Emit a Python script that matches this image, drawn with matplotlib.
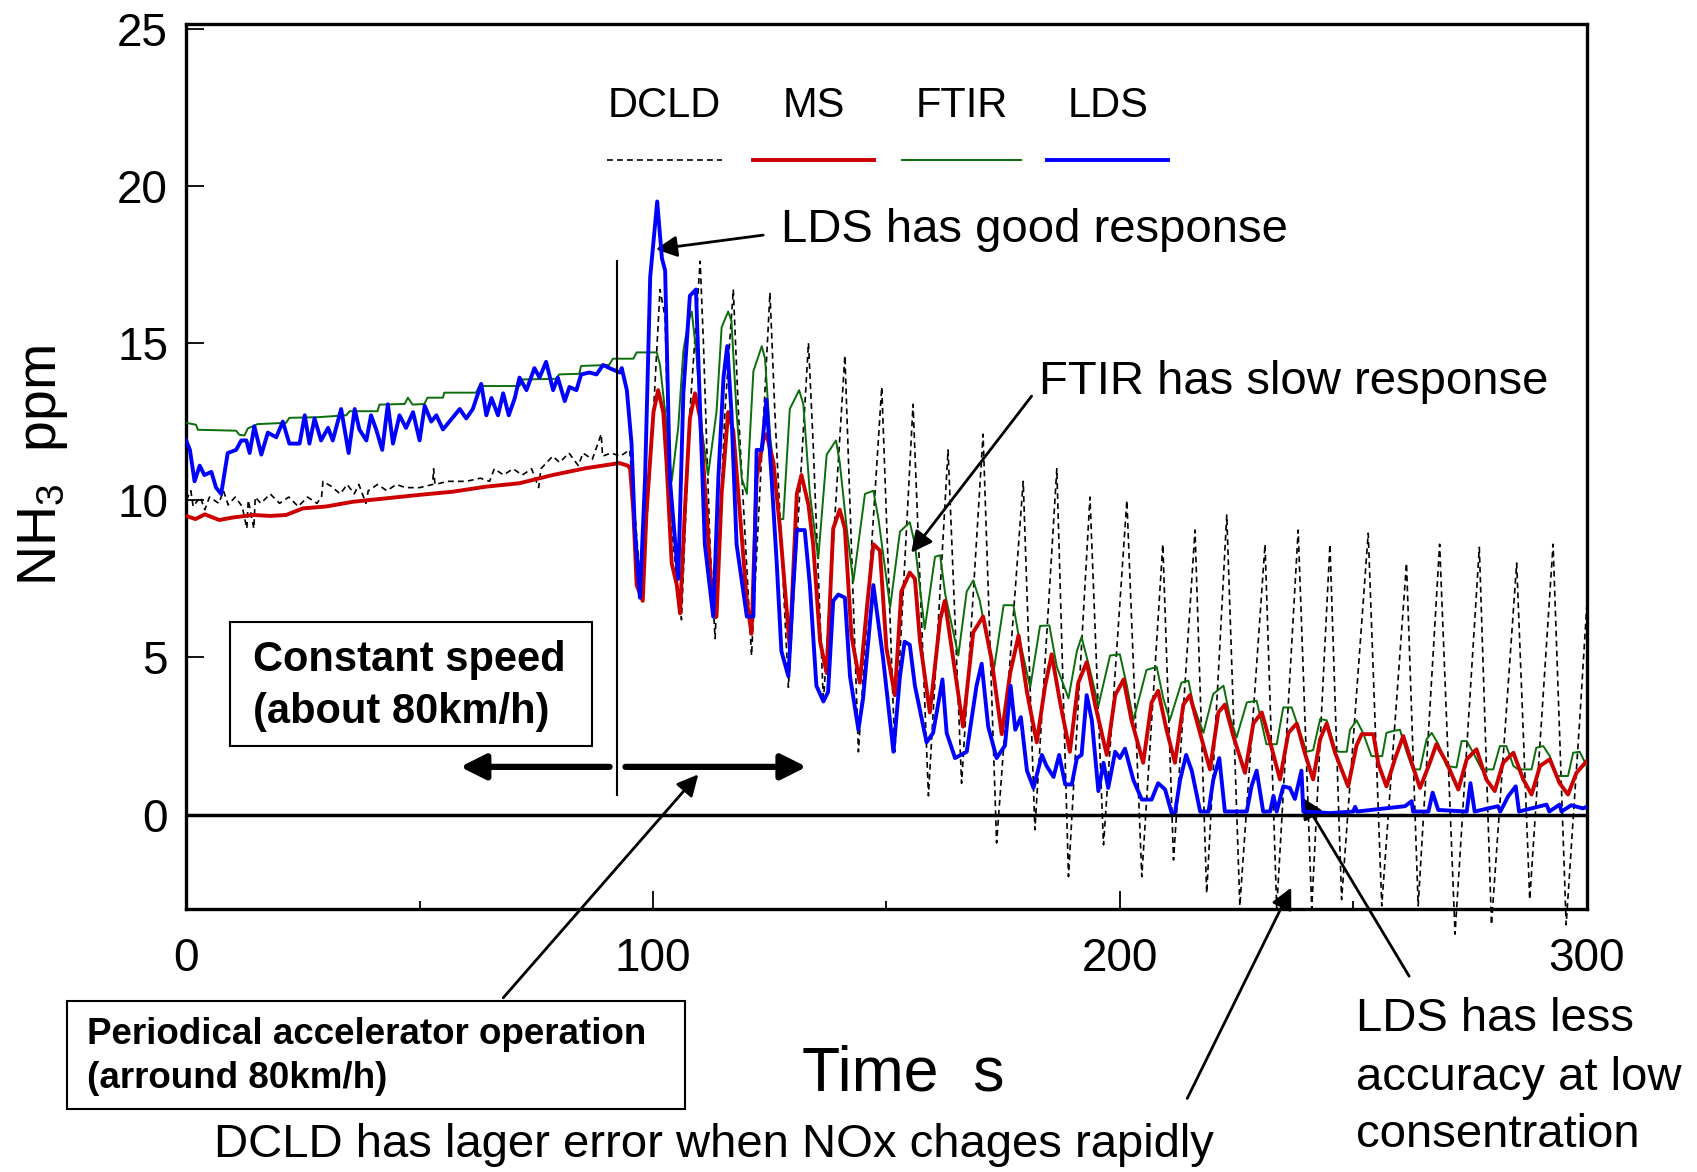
import numpy as np
import matplotlib
matplotlib.use("Agg")
import matplotlib.pyplot as plt
from matplotlib.lines import Line2D
from matplotlib.patches import Rectangle

plt.rcParams['font.family'] = ['Liberation Sans', 'DejaVu Sans']
plt.rcParams['mathtext.default'] = 'regular'

# ---- data: (time s, NH3 ppm) ----
dcld = [(0, 10.0), (1, 10.3), (1.5, 9.8), (3, 10.1), (4, 9.7), (5, 10.1), (7, 9.9), (8, 10.3), (9, 9.85),
        (10.5, 10.1), (12, 9.8), (13, 9.1), (13.3, 10.0), (14.5, 9.1), (14.8, 10.1), (16, 9.9), (18, 10.2),
        (20, 9.9), (22, 10.1), (24, 9.8), (26, 10.1), (28, 9.9), (29, 10.1), (29.3, 10.6), (31, 10.45),
        (33, 10.2), (34.5, 10.5), (36, 10.2), (37, 10.5), (38.5, 9.9), (39, 10.3), (41, 10.5), (43, 10.3),
        (45, 10.5), (47, 10.4), (50, 10.4), (52.8, 10.5), (53, 11.0), (53.3, 10.5), (56, 10.6), (60, 10.6),
        (63, 10.7), (65, 10.6), (66, 11.0), (68, 10.8), (70, 11.0), (72, 10.8), (74, 11.0), (75.5, 10.4),
        (76, 11.0), (78.5, 11.4), (80, 11.2), (82, 11.5), (84, 11.1), (85, 11.5), (87, 11.3), (88.9, 12.1),
        (89.2, 11.4), (91, 11.5), (93, 11.4), (95, 11.6),
        (96.1, 9.6), (97.6, 6.8), (100.1, 12.8), (101.5, 16.7), (102.6, 15.8), (103.6, 9.6), (106.1, 6.2),
        (107.9, 12.8), (110.1, 17.6), (110.8, 15.0), (112.2, 8.6), (113.3, 5.6), (115.4, 12.8), (117.2, 16.7),
        (118.3, 12.8), (121.1, 5.06), (125.05, 16.6), (126.1, 12.8), (129.0, 4.05), (133.3, 15.0),
        (134.3, 11.8), (136.5, 3.57), (141.1, 14.6), (144.0, 2.0), (149.0, 13.6), (151.8, 2.0),
        (155.7, 13.05), (159.0, 0.6), (163.2, 11.6), (166.1, 1.0), (170.7, 12.1), (173.6, -0.9),
        (179.3, 10.6), (181.8, -0.48), (186.5, 11.0), (189.0, -1.97), (193.6, 10.1), (196.5, -0.96),
        (201.5, 10.0), (204.7, -1.97), (209.2, 8.6), (211.5, -1.44), (216.1, 9.05), (218.6, -2.5),
        (222.9, 9.53), (225.7, -2.9), (231.1, 8.6), (233.6, -3.0), (238.2, 9.05), (241.1, -3.0),
        (245.0, 8.6), (247.5, -2.7), (253.2, 8.95), (256.1, -2.9), (261.4, 8.0), (263.9, -2.9),
        (268.5, 8.6), (271.8, -3.8), (277.0, 8.5), (279.6, -3.5), (285.0, 8.0), (287.8, -2.7),
        (292.8, 8.6), (295.6, -3.5), (298.5, 3.0), (300, 6.6)]

ms = [(0, 9.5), (2, 9.4), (4, 9.55), (7.1, 9.37), (10, 9.45), (14.3, 9.53), (18, 9.5), (21.4, 9.53),
      (25, 9.74), (30, 9.8), (35.7, 9.95), (42.8, 10.06), (50, 10.17), (57.1, 10.27), (64.2, 10.43),
      (71.4, 10.54), (78.5, 10.8), (85.7, 11.02), (92.8, 11.18), (94.6, 11.1),
      (95.1, 11.0), (95.8, 9.6), (96.5, 7.3), (97.8, 6.8), (98.6, 9.6), (100.1, 12.8), (101.1, 13.5),
      (102.2, 12.8), (102.9, 11.2), (104.0, 8.0), (105.1, 7.3), (105.8, 6.4), (106.8, 9.6), (107.9, 12.6),
      (109.0, 13.4), (110.1, 12.6), (111.5, 9.6), (112.6, 6.9), (113.6, 6.3), (114.7, 10.2), (116.1, 12.8),
      (117.2, 12.2), (118.6, 9.6), (120.1, 6.8), (121.1, 5.75), (122.2, 10.7), (123.6, 11.9), (124.3, 12.1),
      (125.8, 11.2), (127.2, 9.1), (128.6, 6.55), (129.3, 5.3), (130.8, 10.2), (131.8, 10.8), (133.3, 9.85),
      (134.3, 8.6), (135.8, 5.5), (137.2, 4.5), (138.6, 9.1), (140.0, 9.7), (141.1, 9.1), (142.5, 5.7),
      (144.3, 4.2), (145.8, 6.55), (147.2, 8.6), (148.6, 8.4), (150.0, 5.3), (151.8, 3.8), (153.2, 7.1),
      (155.0, 7.7), (156.1, 7.5), (157.2, 5.5), (159.3, 3.25), (161.5, 6.2), (162.5, 6.8), (164.3, 4.95),
      (166.4, 2.8), (168.6, 5.8), (170.7, 6.3), (172.5, 4.95), (174.7, 2.56), (176.5, 4.5), (178.3, 5.7),
      (180.1, 3.9), (182.2, 2.3), (184.0, 4.1), (185.4, 5.1), (187.2, 3.57), (189.3, 2.0), (191.1, 4.2),
      (192.9, 4.85), (194.7, 3.5), (197.2, 1.9), (199.0, 3.8), (200.8, 4.3), (202.5, 3.0), (205.0, 1.65),
      (206.8, 3.57), (208.2, 3.94), (210.0, 2.7), (211.8, 1.65), (213.6, 3.5), (215.0, 3.8), (216.8, 2.8),
      (219.3, 1.44), (221.1, 3.25), (222.5, 3.5), (224.3, 2.5), (226.8, 1.33), (228.6, 2.9), (230.4, 3.25),
      (232.2, 2.3), (234.3, 1.12), (236.1, 2.6), (237.9, 2.9), (239.6, 1.97), (241.4, 1.12), (242.9, 2.4),
      (244.3, 2.9), (246.1, 1.97), (248.9, 0.9), (250.7, 2.2), (251.8, 2.56), (254.3, 2.56), (255.4, 1.6),
      (257.1, 0.9), (258.9, 1.76), (260.7, 2.5), (262.5, 1.65), (264.3, 0.85), (266.4, 1.65), (267.8, 2.24),
      (270.0, 1.65), (272.5, 0.8), (274.3, 1.76), (276.4, 2.08), (278.5, 1.12), (280.3, 0.75), (282.1, 1.65),
      (284.3, 1.97), (286.4, 1.12), (288.2, 0.64), (290.0, 1.55), (292.1, 1.76), (294.2, 1.0), (296.0, 0.64),
      (297.8, 1.33), (300, 1.7)]

ftir = [(0, 12.46), (2.1, 12.4), (2.5, 12.24), (10.7, 12.21), (11.4, 12.08), (12.5, 12.06), (13.2, 12.28),
        (15.3, 12.42), (21.4, 12.46), (22.1, 12.62), (28.2, 12.64), (34.3, 12.7), (35.0, 12.83), (41.0, 12.83),
        (41.4, 13.04), (46.8, 13.06), (47.5, 13.26), (48.5, 13.04), (51.0, 13.06), (51.7, 13.26), (55.0, 13.26),
        (55.3, 13.42), (62.1, 13.42), (62.8, 13.63), (71.4, 13.63), (72.1, 13.84), (79.2, 13.86), (79.9, 14.0),
        (84.2, 14.02), (84.6, 14.27), (90.6, 14.3), (91.4, 14.5), (95.8, 14.5), (96.5, 14.7), (100.8, 14.7),
        (101.5, 14.3), (102.6, 12.8), (104.0, 10.6), (105.4, 12.3), (106.5, 14.75), (107.6, 15.7),
        (108.3, 16.0), (109.3, 14.65), (110.4, 12.3), (111.8, 10.8), (113.6, 12.8), (114.7, 15.5),
        (116.1, 16.0), (116.8, 15.7), (117.9, 12.8), (119.0, 10.7), (120.1, 10.2), (121.5, 14.1),
        (123.3, 14.9), (124.0, 14.5), (125.1, 12.0), (127.2, 9.4), (127.9, 9.4), (129.3, 12.9), (131.3, 13.5),
        (132.2, 13.05), (133.6, 10.2), (135.4, 8.15), (137.2, 11.45), (139.2, 11.9), (140.0, 11.2),
        (141.5, 9.1), (142.9, 7.4), (145.4, 10.2), (147.2, 10.3), (148.3, 9.4), (150.8, 6.6), (152.9, 9.0),
        (155.0, 9.3), (156.1, 8.6), (158.2, 5.9), (160.4, 8.2), (161.5, 8.25), (162.6, 7.0), (165.4, 5.06),
        (167.2, 7.1), (168.6, 7.45), (170.0, 6.8), (172.9, 4.5), (175.1, 6.66), (177.2, 6.66), (178.3, 5.7),
        (180.8, 4.05), (182.9, 6.0), (184.9, 6.02), (186.5, 4.7), (189.0, 3.7), (190.8, 5.2), (191.8, 5.65),
        (193.6, 4.6), (195.4, 3.46), (197.9, 5.06), (200.0, 5.1), (201.5, 4.1), (202.9, 3.0), (205.7, 4.6),
        (207.9, 4.7), (209.3, 3.7), (210.7, 3.0), (213.2, 4.2), (214.7, 4.26), (215.7, 3.5), (217.9, 2.6),
        (220.0, 3.84), (222.2, 4.1), (223.6, 3.1), (225.0, 2.45), (227.2, 3.57), (229.3, 3.62), (230.4, 2.9),
        (231.4, 2.24), (233.6, 2.24), (235.0, 3.41), (236.8, 3.41), (238.2, 2.8), (240.0, 2.0), (241.4, 2.05),
        (242.9, 3.04), (244.3, 3.0), (246.1, 2.1), (246.8, 2.0), (248.6, 2.0), (249.3, 2.7), (250.7, 3.0),
        (252.1, 2.6), (253.9, 1.86), (256.2, 1.86), (257.1, 2.6), (258.2, 2.65), (260.0, 2.7), (261.4, 2.0),
        (262.8, 1.44), (264.3, 1.44), (265.7, 2.4), (266.8, 2.6), (268.2, 2.25), (270.0, 1.55), (272.1, 1.5),
        (273.2, 2.34), (274.3, 2.34), (275.7, 1.97), (277.5, 1.44), (280.0, 1.44), (281.4, 2.18),
        (282.8, 2.18), (284.3, 1.55), (285.3, 1.44), (288.2, 1.44), (289.2, 2.13), (290.7, 2.18),
        (292.1, 1.86), (293.5, 1.23), (296.0, 1.23), (297.1, 1.97), (298.5, 2.0), (300, 1.55)]

lds = [(0, 11.9), (0.8, 11.6), (1.8, 10.6), (2.9, 11.1), (3.9, 10.8), (5.4, 10.9), (6.4, 10.4), (7.5, 10.2),
       (8.9, 11.5), (10.7, 11.6), (11.8, 11.9), (12.9, 11.9), (13.6, 11.5), (14.6, 12.35), (16.1, 11.45),
       (17.5, 12.15), (19.3, 12.0), (20.7, 12.5), (22.1, 11.8), (24.3, 11.8), (25.4, 12.7), (26.4, 11.8),
       (27.5, 12.6), (28.9, 11.9), (30.4, 12.3), (31.4, 11.9), (33.2, 12.9), (34.8, 11.5), (36.1, 12.9),
       (37.1, 12.25), (38.6, 11.9), (39.6, 12.7), (40.7, 12.25), (42.0, 11.6), (43.2, 13.05), (44.3, 11.8),
       (45.7, 12.7), (47.1, 12.3), (48.6, 12.8), (50.0, 11.9), (51.1, 13.0), (52.5, 12.5), (53.6, 12.7),
       (55.0, 12.25), (56.4, 12.5), (58.6, 12.9), (60.0, 12.6), (61.4, 12.9), (63.2, 13.7), (64.3, 12.7),
       (65.4, 13.25), (66.8, 12.7), (67.9, 13.4), (69.1, 12.7), (70.4, 13.25), (71.4, 13.9), (72.9, 13.5),
       (74.6, 14.2), (75.7, 13.9), (77.1, 14.4), (78.6, 13.5), (79.6, 13.9), (81.1, 13.15), (82.1, 13.6),
       (83.6, 13.5), (84.6, 14.0), (86.4, 14.06), (87.9, 14.0), (89.3, 14.3), (90.7, 14.2), (92.9, 14.06),
       (93.3, 14.2), (94.4, 13.5), (95.4, 11.8), (96.1, 9.1), (97.2, 6.9), (98.3, 10.7), (99.4, 17.1),
       (100.9, 19.5), (101.9, 17.7), (102.6, 17.3), (103.6, 10.7), (105.4, 7.5), (106.5, 13.4), (107.9, 16.5),
       (109.2, 16.7), (110.1, 12.8), (111.1, 8.6), (112.9, 6.3), (114.0, 10.7), (115.1, 13.9), (115.9, 14.9),
       (116.8, 12.8), (117.9, 8.6), (120.1, 6.3), (121.5, 6.3), (122.2, 11.6), (123.3, 11.6), (124.3, 13.2),
       (125.4, 10.7), (126.5, 8.0), (127.5, 5.2), (129.0, 4.4), (130.0, 7.1), (130.8, 9.05), (132.5, 9.05),
       (133.6, 7.3), (135.0, 4.1), (136.5, 3.6), (137.5, 3.9), (138.6, 6.8), (139.7, 7.0), (141.1, 6.9),
       (142.2, 4.4), (144.0, 2.7), (145.0, 3.7), (147.2, 7.3), (149.3, 4.95), (151.5, 2.0), (152.9, 4.4),
       (153.9, 5.5), (155.0, 5.4), (156.1, 4.1), (158.6, 2.3), (160.0, 2.6), (162.0, 4.3), (162.9, 2.6),
       (164.7, 1.8), (167.2, 2.0), (169.3, 4.1), (170.4, 4.8), (171.8, 2.8), (173.6, 1.8), (175.4, 2.2),
       (176.6, 4.1), (177.6, 2.7), (178.8, 3.1), (180.1, 1.4), (181.5, 0.85), (183.3, 1.9), (184.3, 1.55),
       (185.8, 1.2), (187.0, 1.9), (188.3, 0.96), (189.7, 0.96), (190.8, 1.8), (191.8, 1.9), (192.9, 3.8),
       (194.0, 3.0), (195.4, 0.75), (196.5, 1.65), (197.5, 0.85), (199.0, 2.0), (200.0, 1.8), (201.1, 2.1),
       (202.9, 1.1), (204.7, 0.48), (206.8, 0.48), (208.2, 1.0), (209.7, 0.8), (211.1, 0.05), (211.8, 0.05),
       (212.9, 1.1), (214.2, 1.9), (215.4, 1.4), (217.2, 0.1), (219.0, 0.1), (220.0, 1.1), (221.3, 1.8),
       (222.5, 0.1), (227.2, 0.1), (228.2, 0.9), (229.3, 1.4), (230.7, 0.1), (232.2, 0.1), (232.9, 0.6),
       (233.6, 0.1), (235.0, 0.9), (236.4, 0.85), (237.5, 0.5), (238.9, 1.4), (239.3, 0.1), (245.0, 0.05),
       (250.0, 0.1), (250.4, 0.25), (250.8, 0.1), (261.1, 0.27), (262.5, 0.43), (262.8, 0.1), (266.1, 0.1),
       (267.0, 0.7), (268.2, 0.15), (274.3, 0.1), (275.1, 1.0), (276.0, 0.1), (281.0, 0.27), (281.5, 0.1),
       (283.2, 0.59), (284.8, 0.9), (285.5, 0.1), (291.4, 0.32), (292.0, 0.1), (294.2, 0.32), (294.6, 0.1),
       (296.7, 0.3), (299.2, 0.2), (300, 0.25)]

legend_names = ["DCLD", "MS", "FTIR", "LDS"]

dcld_t, dcld_v = np.array(dcld).T
ms_t, ms_v = np.array(ms).T
ftir_t, ftir_v = np.array(ftir).T
lds_t, lds_v = np.array(lds).T

fig = plt.figure(figsize=(16.97, 11.72), dpi=100)
ax = fig.add_axes([0.1097, 0.2244, 0.8253, 0.7553])

ax.plot(dcld_t, dcld_v, color='k', lw=1.2, ls=(0, (3.5, 2.5)), clip_on=False, zorder=2)
ax.plot(ftir_t, ftir_v, color='#0a6e0a', lw=1.4, zorder=3)
ax.plot(ms_t, ms_v, color='#cc0000', lw=2.8, zorder=4)
ax.plot(lds_t, lds_v, color='#0000ff', lw=2.8, zorder=5)

ax.axhline(0, color='k', lw=2.5, zorder=6)
ax.plot([92.3, 92.3], [0.62, 17.6], color='k', lw=1.5, zorder=6)

ax.set_xlim(0, 300)
ax.set_ylim(-3, 25.15)
ax.set_xticks([0, 100, 200, 300])
ax.set_xticks([50, 150, 250], minor=True)
ax.set_yticks([0, 5, 10, 15, 20, 25])
ax.tick_params(axis='both', which='major', direction='in', length=13, width=1.3, labelsize=33)
ax.tick_params(axis='both', which='minor', direction='in', length=6, width=1.3)
ax.tick_params(axis='x', pad=20)
ax.tick_params(axis='y', pad=13)
for s in ax.spines.values():
    s.set_linewidth(2.4)

# legend drawn as labels above line samples
leg_x = [(0.3006, 0.3826), (0.405, 0.491), (0.511, 0.596), (0.615, 0.701)]
leg_style = [dict(color='k', lw=1.2, ls=(0, (3.5, 2.5))), dict(color='#cc0000', lw=2.8),
             dict(color='#0a6e0a', lw=1.4), dict(color='#0000ff', lw=2.8)]
for name, (x0, x1), st in zip(legend_names, leg_x, leg_style):
    ax.add_line(Line2D([x0, x1], [0.846, 0.846], transform=ax.transAxes, **st))
    ax.text((x0 + x1) / 2, 0.907, name, transform=ax.transAxes, ha='center', va='center', fontsize=30)

# annotations inside the plot
ax.text(127.5, 18.6, "LDS has good response", fontsize=34, va='center', ha='left')
ax.text(182.7, 13.76, "FTIR has slow response", fontsize=34, va='center', ha='left')
arr = dict(arrowstyle='-|>', color='k', lw=2, mutation_scale=32, shrinkA=0, shrinkB=0)
ax.annotate("", xy=(100.6, 17.98), xytext=(123.6, 18.43), arrowprops=arr)
ax.annotate("", xy=(155.3, 8.33), xytext=(181.1, 13.31), arrowprops=arr)

big = dict(arrowstyle='-|>', color='k', lw=4.5, mutation_scale=38, shrinkA=0, shrinkB=0)
ax.annotate("", xy=(58.7, 1.52), xytext=(90.7, 1.52), arrowprops=big)
ax.annotate("", xy=(132.9, 1.52), xytext=(94.1, 1.52), arrowprops=big)

# arrows from texts below the axes
W, H = 1568.0, 1083.0
for tip, tail in [((109.7, 1.28), (465, 922)), ((236.7, -2.32), (1097, 1015)), ((239.0, 0.55), (1302, 902))]:
    ax.annotate("", xy=tip, xycoords='data', xytext=(tail[0] / W, 1 - tail[1] / H),
                textcoords='figure fraction', arrowprops=arr, annotation_clip=False)

# text boxes
fig.add_artist(Rectangle((0.1358, 0.3638), 0.2131, 0.1053, transform=fig.transFigure,
                         fill=False, ec='k', lw=1.5, zorder=10))
fig.text(0.1492, 0.4367, "Constant speed", fontsize=30, fontweight='bold', va='center')
fig.text(0.1492, 0.3924, "(about 80km/h)", fontsize=30, fontweight='bold', va='center')

fig.add_artist(Rectangle((0.0395, 0.0536), 0.3642, 0.0923, transform=fig.transFigure,
                         fill=False, ec='k', lw=1.5, zorder=10))
fig.text(0.051, 0.1173, "Periodical accelerator operation", fontsize=26.5, fontweight='bold', va='center')
fig.text(0.051, 0.0794, "(arround 80km/h)", fontsize=26.5, fontweight='bold', va='center')

fig.text(0.5325, 0.084, "Time  s", fontsize=45, ha='center', va='center')
fig.text(0.0255, 0.603, "NH$_3$  ppm", fontsize=40, rotation=90, ha='center', va='center')
fig.text(0.4209, 0.0231, "DCLD has lager error when NOx chages rapidly", fontsize=34, ha='center', va='center')
fig.text(0.799, 0.1302, "LDS has less", fontsize=34, va='center')
fig.text(0.799, 0.0803, "accuracy at low", fontsize=34, va='center')
fig.text(0.799, 0.0314, "consentration", fontsize=34, va='center')

fig.savefig("out.png", dpi=100)
